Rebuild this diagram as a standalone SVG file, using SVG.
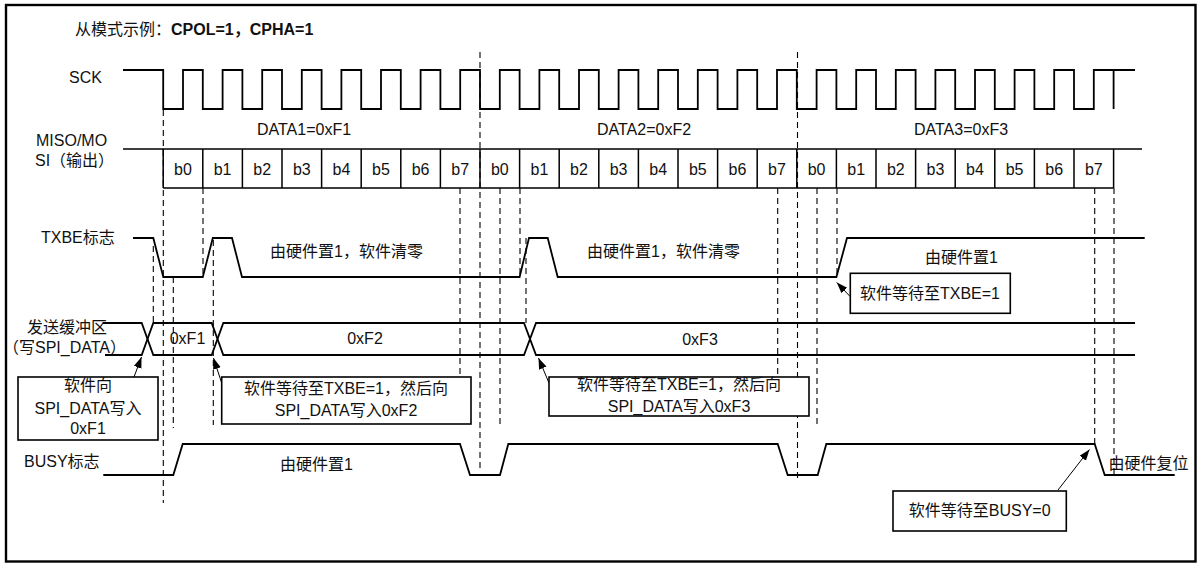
<svg xmlns="http://www.w3.org/2000/svg" width="1197" height="563" viewBox="0 0 1197 563">
<style>
text{font-family:"Liberation Sans","Noto Sans CJK SC",sans-serif;font-size:16px;fill:#111}
.b{font-weight:bold}
.m{text-anchor:middle}
.w{fill:none;stroke:#000;stroke-width:1.8;stroke-linejoin:miter}
.c{fill:none;stroke:#000;stroke-width:1.5}
.box{fill:#fff;stroke:#000;stroke-width:1.6}
.d{fill:none;stroke:#000;stroke-width:1.1;stroke-dasharray:6 4}
.a{fill:none;stroke:#000;stroke-width:1;marker-end:url(#ah)}
</style>
<defs>
<marker id="ah" markerUnits="userSpaceOnUse" markerWidth="12" markerHeight="10" refX="11" refY="4" orient="auto">
<path d="M0,0 L11,4 L0,8 Z" fill="#000"/>
</marker>
</defs>
<rect x="6" y="5" width="1189.5" height="556.5" fill="#fff" stroke="#000" stroke-width="2.4"/>
<g id="title"><text x="75" y="35">从模式示例：<tspan class="b">CPOL=1，CPHA=1</tspan></text></g>

<g id="sck">
<text x="69" y="83">SCK</text>
<path class="w" d="M123,70 H163.2 V109 H183 V70 H202.8 V109 H222.6 V70 H242.4 V109 H262.2 V70 H282 V109 H301.8 V70 H321.6 V109 H341.4 V70 H361.2 V109 H381 V70 H400.8 V109 H420.6 V70 H440.4 V109 H460.2 V70 H480 V109 H499.8 V70 H519.6 V109 H539.4 V70 H559.2 V109 H579 V70 H598.8 V109 H618.6 V70 H638.4 V109 H658.2 V70 H678 V109 H697.8 V70 H717.6 V109 H737.4 V70 H757.2 V109 H777 V70 H796.8 V109 H816.6 V70 H836.4 V109 H856.2 V70 H876 V109 H895.8 V70 H915.6 V109 H935.4 V70 H955.2 V109 H975 V70 H994.8 V109 H1014.6 V70 H1034.4 V109 H1054.2 V70 H1074 V109 H1093.8 V70 H1135 M1113.6,70 V109"/>
</g>

<g id="miso">
<text x="36" y="146">MISO/MO</text>
<text x="35" y="166">SI（输出）</text>
<text class="m" x="304" y="135">DATA1=0xF1</text>
<text class="m" x="644" y="135">DATA2=0xF2</text>
<text class="m" x="961" y="135">DATA3=0xF3</text>
<path class="c" d="M123,149 H1142 M163.2,188 H1113.6 M163.2,149V188 M202.8,149V188 M242.4,149V188 M282,149V188 M321.6,149V188 M361.2,149V188 M400.8,149V188 M440.4,149V188 M480,149V188 M519.6,149V188 M559.2,149V188 M598.8,149V188 M638.4,149V188 M678,149V188 M717.6,149V188 M757.2,149V188 M796.8,149V188 M836.4,149V188 M876,149V188 M915.6,149V188 M955.2,149V188 M994.8,149V188 M1034.4,149V188 M1074,149V188 M1113.6,149V188"/>
<text class="m" x="183" y="175">b0</text><text class="m" x="222.6" y="175">b1</text><text class="m" x="262.2" y="175">b2</text><text class="m" x="301.8" y="175">b3</text><text class="m" x="341.4" y="175">b4</text><text class="m" x="381" y="175">b5</text><text class="m" x="420.6" y="175">b6</text><text class="m" x="460.2" y="175">b7</text>
<text class="m" x="499.8" y="175">b0</text><text class="m" x="539.4" y="175">b1</text><text class="m" x="579" y="175">b2</text><text class="m" x="618.6" y="175">b3</text><text class="m" x="658.2" y="175">b4</text><text class="m" x="697.8" y="175">b5</text><text class="m" x="737.4" y="175">b6</text><text class="m" x="777" y="175">b7</text>
<text class="m" x="816.6" y="175">b0</text><text class="m" x="856.2" y="175">b1</text><text class="m" x="895.8" y="175">b2</text><text class="m" x="935.4" y="175">b3</text><text class="m" x="975" y="175">b4</text><text class="m" x="1014.6" y="175">b5</text><text class="m" x="1054.2" y="175">b6</text><text class="m" x="1093.8" y="175">b7</text>
</g>

<g id="txbe">
<text x="41" y="243">TXBE标志</text>
<path class="w" d="M133,238 H153.3 L163.3,277 H202.8 L212.8,238 H232 L242,277 H519.6 L529,238 H547.7 L557.7,277 H836.4 L847,238 H1144.7"/>
<text x="270" y="257">由硬件置1，软件清零</text>
<text x="587" y="257">由硬件置1，软件清零</text>
<text x="925" y="263">由硬件置1</text>
</g>

<g id="buffer">
<text x="27" y="333">发送缓冲区</text>
<text x="3" y="353">（写SPI_DATA）</text>
<path class="w" d="M103,323 H141.7 L153.3,355 H211.7 L223.3,323 H524 L536,355 H1135"/>
<path class="w" d="M105,355 H141.7 L153.3,323 H211.7 L223.3,355 H524 L536,323 H1135"/>
<text class="m" x="187.5" y="344">0xF1</text>
<text class="m" x="365" y="344">0xF2</text>
<text class="m" x="700" y="345">0xF3</text>
</g>

<g id="busy">
<text x="24" y="467">BUSY标志</text>
<path class="w" d="M103.3,475 H173.3 L182.7,444 H460 L470,475 H500 L508.3,444 H777.7 L787.7,475 H817.7 L826.3,444 H1094.7 L1104.7,475 H1174.7"/>
<text x="280" y="470">由硬件置1</text>
<text x="1108.5" y="469">由硬件复位</text>
</g>

<g id="connectors">
<path class="d" d="M163.3,110 V503 M153.3,246 V322 M173.3,277 V428 M203,188 V278 M213.3,240 V425 M460,188 V397 M480,52 V472 M500,188 V425 M520,188 V277 M526,238 V323 M777.7,188 V376 M797.5,52 V482 M817,188 V425 M837,188 V275 M1094.7,188 V445 M1114,188 V475"/>
<path class="a" d="M134,377 L141.5,357"/>
<path class="a" d="M221.7,383 L213.5,358"/>
<path class="a" d="M549,383 L538.5,358"/>
<path class="a" d="M850.3,296.7 L836.8,282.5"/>
<path class="a" d="M1058,490 L1089.5,449.5"/>
</g>

<g id="box-write-f1">
<rect class="box" x="18" y="377" width="140" height="63"/>
<text class="m" x="88" y="391">软件向</text>
<text class="m" x="88" y="414">SPI_DATA写入</text>
<text class="m" x="88" y="434">0xF1</text>
</g>
<g id="box-write-f2">
<rect class="box" x="221.7" y="377" width="249.3" height="47"/>
<text class="m" x="346" y="394">软件等待至TXBE=1，然后向</text>
<text class="m" x="346" y="416">SPI_DATA写入0xF2</text>
</g>
<g id="box-write-f3">
<rect class="box" x="549" y="377" width="260" height="39"/>
<text class="m" x="679" y="390">软件等待至TXBE=1，然后向</text>
<text class="m" x="679" y="412">SPI_DATA写入0xF3</text>
</g>
<g id="box-wait-txbe">
<rect class="box" x="850.3" y="273.3" width="160" height="40"/>
<text class="m" x="930" y="299">软件等待至TXBE=1</text>
</g>
<g id="box-wait-busy">
<rect class="box" x="893" y="491" width="173.3" height="40"/>
<text class="m" x="979.7" y="516">软件等待至BUSY=0</text>
</g>
</svg>
